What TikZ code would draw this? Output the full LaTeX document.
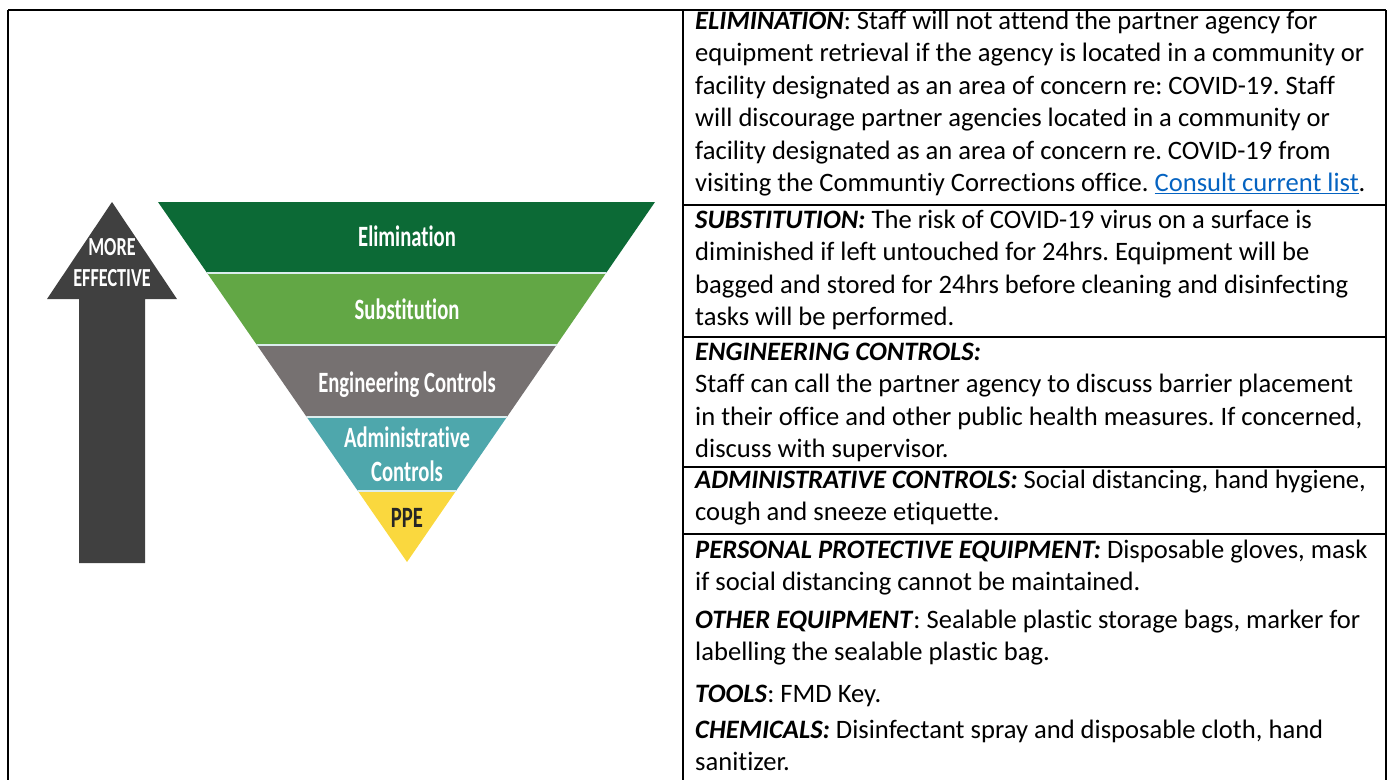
\documentclass[tikz,border=0pt]{standalone}
\usepackage{fontspec}
\setmainfont{Carlito}[Ligatures=NoCommon]
\newfontfamily\condfont[FakeStretch=0.7,Ligatures=NoCommon]{Carlito}

\definecolor{elimgreen}{HTML}{0C6A36}
\definecolor{substgreen}{HTML}{62A745}
\definecolor{enggray}{HTML}{767171}
\definecolor{adminteal}{HTML}{4EA7AC}
\definecolor{ppeyellow}{HTML}{FAD83E}
\definecolor{arrowgray}{HTML}{404040}
\definecolor{linkblue}{HTML}{0563C1}

\newcommand{\hd}[1]{\textbf{\textit{#1}}}

\begin{document}
\frenchspacing
\begin{tikzpicture}[x=1pt,y=-1pt,
    bandlabel/.style={font=\condfont\bfseries\fontsize{29.5}{33}\selectfont, text=white, anchor=base, inner sep=0pt},
    arrowlabel/.style={font=\condfont\bfseries\fontsize{26}{30}\selectfont, text=white, anchor=base, inner sep=0pt},
    celltext/.style={font=\fontsize{26.6}{32.5}\selectfont, anchor=base west, align=left, inner sep=0pt},
    tableline/.style={line width=1.7pt}]
    \useasboundingbox (0,0) rectangle (1391,779);

    % arrow
    \fill[arrowgray] (79,563) -- (79,299) -- (47,299) -- (112,202) -- (177,299) -- (145,299) -- (145,563) -- cycle;
    \node[arrowlabel] (more) at (112,255.5) {MORE};
    \node[arrowlabel] (effective) at (112,286.5) {EFFECTIVE};

    % inverted triangle, one band per level
    \begin{scope}
        \clip (158,202) -- (655,202) -- (407,562) -- cycle;
        \fill[elimgreen] (150,202) rectangle (660,273);
        \fill[substgreen] (150,273) rectangle (660,345);
        \fill[enggray] (150,345) rectangle (660,417);
        \fill[adminteal] (150,417) rectangle (660,491);
        \fill[ppeyellow] (150,491) rectangle (660,563);
        \draw[white!80!adminteal, line width=2pt] (150,273) -- (660,273);
        \draw[white!80!adminteal, line width=2pt] (150,345) -- (660,345);
        \draw[white!80!adminteal, line width=2pt] (150,417) -- (660,417);
        \draw[white!80!adminteal, line width=2pt] (150,491) -- (660,491);
    \end{scope}

    \node[bandlabel] (elim) at (407,246.5) {Elimination};
    \node[bandlabel] (subst) at (407,319.5) {Substitution};
    \node[bandlabel] (eng) at (407,392.5) {Engineering Controls};
    \node[bandlabel] (admin) at (407,447.5) {Administrative};
    \node[bandlabel] (admin2) at (407,481.5) {Controls};
    \node[bandlabel, text=black!85] (ppe) at (407,527.5) {PPE};

    % table
    \draw[tableline] (8,10) -- (1386,10);
    \draw[tableline] (8,10) -- (8,790);
    \draw[tableline] (683,10) -- (683,790);
    \draw[tableline] (1386,10) -- (1386,790);
    \draw[tableline] (683,205) -- (1386,205);
    \draw[tableline] (683,337) -- (1386,337);
    \draw[tableline] (683,467) -- (1386,467);
    \draw[tableline] (683,534) -- (1386,534);

    % each cell sits on the baseline of its last line
    \node[celltext] (elimtxt) at (695,191.5) {\hd{ELIMINATION}: Staff will not attend the partner agency for\\
        equipment retrieval if the agency is located in a community or\\
        facility designated as an area of concern re: COVID-19. Staff\\
        will discourage partner agencies located in a community or\\
        facility designated as an area of concern re. COVID-19 from\\
        visiting the Communtiy Corrections office. {\color{linkblue}\underline{Consult current list}}.};
    \node[celltext] (substtxt) at (695,325.5) {\hd{SUBSTITUTION:} The risk of COVID-19 virus on a surface is\\
        diminished if left untouched for 24hrs. Equipment will be\\
        bagged and stored for 24hrs before cleaning and disinfecting\\
        tasks will be performed.};
    \node[celltext] (engtxt) at (695,457.5) {\hd{ENGINEERING CONTROLS:}\\
        Staff can call the partner agency to discuss barrier placement\\
        in their office and other public health measures. If concerned,\\
        discuss with supervisor.};
    \node[celltext] (admintxt) at (695,520.5) {\hd{ADMINISTRATIVE CONTROLS:} Social distancing, hand hygiene,\\
        cough and sneeze etiquette.};
    \node[celltext] (ppetxt) at (695,590.5) {\hd{PERSONAL PROTECTIVE EQUIPMENT:} Disposable gloves, mask\\
        if social distancing cannot be maintained.};
    \node[celltext] (othertxt) at (695,660.5) {\hd{OTHER EQUIPMENT}: Sealable plastic storage bags, marker for\\
        labelling the sealable plastic bag.};
    \node[celltext] (toolstxt) at (695,702) {\hd{TOOLS}: FMD Key.};
    \node[celltext] (chemtxt) at (695,770.5) {\hd{CHEMICALS:} Disinfectant spray and disposable cloth, hand\\
        sanitizer.};
\end{tikzpicture}
\end{document}
